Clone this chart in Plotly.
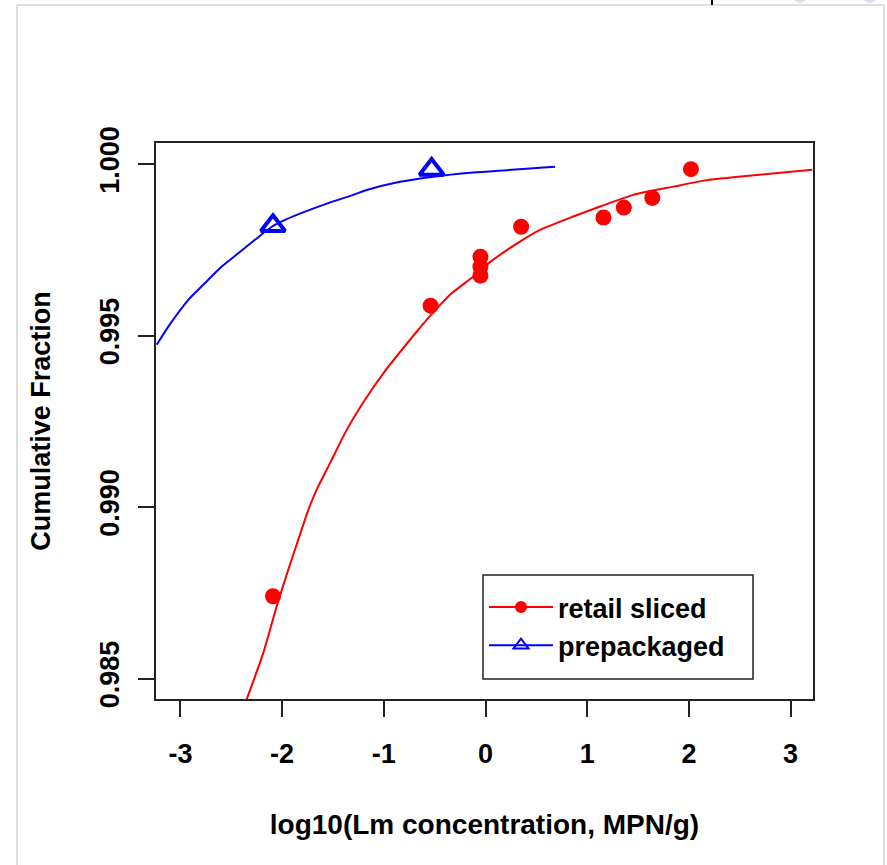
import plotly.graph_objects as go

# ---- data ----
retail_x = [-2.09, -0.54, -0.05, -0.05, -0.05, 0.35, 1.16, 1.36, 1.64, 2.02]
retail_y = [0.98740, 0.99587, 0.99730, 0.99701, 0.99675, 0.99817, 0.99844, 0.99873, 0.99901, 0.99985]

prepack_x = [-2.09, -0.53]
prepack_y = [0.99820, 0.99984]

retail_fit_x = [-2.348, -2.185, -2.053, -1.939, -1.841, -1.742, -1.660, -1.529, -1.365,
                -1.185, -1.005, -0.677, -0.536, -0.349, -0.120, 0.044, 0.339, 0.536,
                0.863, 1.126, 1.453, 1.847, 2.175, 2.667, 3.213]
retail_fit_y = [0.98440, 0.98575, 0.98711, 0.98818, 0.98905, 0.98992, 0.99051, 0.99128, 0.99225,
                0.99313, 0.99390, 0.99511, 0.99560, 0.99619, 0.99672, 0.99714, 0.99774, 0.99808,
                0.99847, 0.99876, 0.99910, 0.99934, 0.99953, 0.99968, 0.99983]

prepack_fit_x = [-3.233, -3.119, -2.922, -2.758, -2.594, -2.431, -2.267, -2.102, -1.971,
                 -1.775, -1.546, -1.300, -1.168, -0.841, -0.513, -0.120, 0.208, 0.536, 0.683]
prepack_fit_y = [0.99473, 0.99526, 0.99604, 0.99653, 0.99701, 0.99740, 0.99779, 0.99817, 0.99837,
                 0.99861, 0.99886, 0.99910, 0.99924, 0.99948, 0.99963, 0.99975, 0.99982, 0.99989,
                 0.99992]

x_ticks = [-3, -2, -1, 0, 1, 2, 3]
x_tick_labels = ["-3", "-2", "-1", "0", "1", "2", "3"]
y_ticks = [0.985, 0.990, 0.995, 1.000]
y_tick_labels = ["0.985", "0.990", "0.995", "1.000"]

series_names = ["retail sliced", "prepackaged"]

# ---- styling ----
RED = "#ff0000"
BLUE = "#0000ff"
FONT = dict(family="Liberation Sans, Arial, sans-serif", size=27, color="black", weight="bold")
XTITLE_FONT = dict(FONT, size=28)

W, H = 887, 865
ML, MR, MT, MB = 156, 74, 143, 166
PW, PH = W - ML - MR, H - MT - MB


def px2paper(px, py):
    return (px - ML) / PW, (H - MB - py) / PH


fig = go.Figure()

# fitted curves
fig.add_trace(go.Scatter(x=retail_fit_x, y=retail_fit_y, mode="lines",
                         line=dict(color=RED, width=2, shape="spline", smoothing=0.6),
                         showlegend=False, hoverinfo="skip"))
fig.add_trace(go.Scatter(x=prepack_fit_x, y=prepack_fit_y, mode="lines",
                         line=dict(color=BLUE, width=2, shape="spline", smoothing=0.6),
                         showlegend=False, hoverinfo="skip"))
# observed points
fig.add_trace(go.Scatter(x=retail_x, y=retail_y, mode="markers",
                         marker=dict(symbol="circle", size=16, color=RED),
                         showlegend=False))
fig.add_trace(go.Scatter(x=prepack_x, y=prepack_y, mode="markers",
                         marker=dict(symbol="triangle-up-open", size=21, color=BLUE,
                                     line=dict(width=4, color=BLUE)),
                         showlegend=False))
# legend entries (line + marker like R legend)
fig.add_trace(go.Scatter(x=[None], y=[None], mode="lines+markers", name=series_names[0],
                         line=dict(color=RED, width=2),
                         marker=dict(symbol="circle", size=12, color=RED)))
fig.add_trace(go.Scatter(x=[None], y=[None], mode="lines+markers", name=series_names[1],
                         line=dict(color=BLUE, width=2),
                         marker=dict(symbol="triangle-up-open", size=13, color=BLUE,
                                     line=dict(width=2, color=BLUE))))

axis_common = dict(showline=True, linecolor="#222222", linewidth=1.5, mirror=True,
                   showgrid=False, zeroline=False, ticks="outside", ticklen=16,
                   tickwidth=1.5, tickcolor="#222222", tickfont=FONT)

fig.update_xaxes(range=[-3.240, 3.220], tickvals=x_ticks, ticktext=x_tick_labels,
                 ticklabelstandoff=14,
                 title=dict(text="log10(Lm concentration, MPN/g)", font=XTITLE_FONT, standoff=46),
                 **axis_common)
fig.update_yaxes(range=[0.984406, 1.000612], tickvals=y_ticks, ticktext=y_tick_labels,
                 tickangle=-90, ticklabelstandoff=8,
                 title=dict(text="Cumulative Fraction", font=FONT, standoff=37),
                 **axis_common)

# page decorations (frame of the original screenshot) and legend box
bx0, by0 = px2paper(17, 5)
bx1, by1 = px2paper(884, 870)
tx, ty0 = px2paper(712, -2)
_, ty1 = px2paper(712, 5)
c1x0, c1y0 = px2paper(791.7, 2.7)
c1x1, c1y1 = px2paper(808.3, -14)
c2x0, _ = px2paper(861.7, 2.7)
c2x1, _ = px2paper(878.3, -14)
lbx0, lby0 = px2paper(483, 575)
lbx1, lby1 = px2paper(753, 679)
shapes = [
    dict(type="rect", xref="paper", yref="paper", x0=bx0, y0=by1, x1=bx1, y1=by0,
         line=dict(color="#bdbdbd", width=1), fillcolor="rgba(0,0,0,0)", layer="below"),
    dict(type="line", xref="paper", yref="paper", x0=tx, y0=ty0, x1=tx, y1=ty1,
         line=dict(color="black", width=2)),
    dict(type="circle", xref="paper", yref="paper", x0=c1x0, y0=c1y0, x1=c1x1, y1=c1y1,
         line=dict(width=0), fillcolor="#dcdcf2"),
    dict(type="circle", xref="paper", yref="paper", x0=c2x0, y0=c1y0, x1=c2x1, y1=c1y1,
         line=dict(width=0), fillcolor="#dcdcf2"),
    dict(type="rect", xref="paper", yref="paper", x0=lbx0, y0=lby1, x1=lbx1, y1=lby0,
         line=dict(color="#222222", width=1.5), fillcolor="white", layer="below"),
]

lx, ly = px2paper(484, 583)
fig.update_layout(
    width=W, height=H,
    margin=dict(l=ML, r=MR, t=MT, b=MB, autoexpand=False),
    paper_bgcolor="white", plot_bgcolor="rgba(0,0,0,0)",
    font=FONT,
    shapes=shapes,
    legend=dict(x=lx, y=ly, xanchor="left", yanchor="top",
                borderwidth=0, bgcolor="rgba(0,0,0,0)",
                font=FONT, itemwidth=64, tracegroupgap=0),
    showlegend=True,
)

fig.write_html("out.html", config={"displayModeBar": False},
               post_script="document.body.style.margin='0px';")
